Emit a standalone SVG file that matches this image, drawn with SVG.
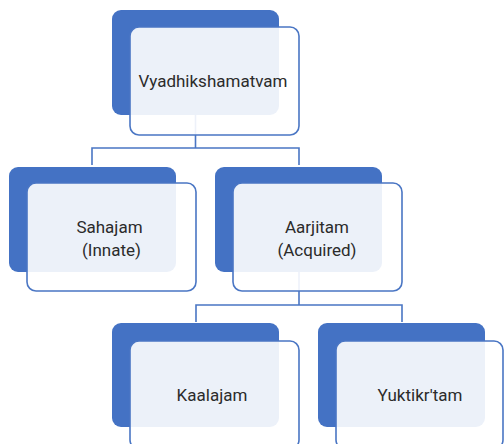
<svg xmlns="http://www.w3.org/2000/svg" width="504" height="444" viewBox="0 0 504 444">
<style>
.back{fill:#4472c4;}
.front{fill:#ffffff;fill-opacity:0.9;stroke:#4a76c4;stroke-width:1.6;}
.lbl{font-family:Roboto,"Liberation Sans",sans-serif;font-size:17px;fill:#2b2b2b;text-anchor:middle;}
.conn{fill:none;stroke:#4a76c4;stroke-width:1.6;}
</style>
<rect width="504" height="444" fill="#ffffff"/>
<g id="connectors">
<path class="conn" d="M195.5,115 V148 M92,165 V148 H299 V165"/>
<path class="conn" d="M299,272 V305 M196,322 V305 H402 V322"/>
</g>
<g id="node-vyadhikshamatvam">
<rect class="back" x="112" y="10" width="167" height="105" rx="9"/>
<rect class="front" x="130" y="27" width="169" height="108" rx="9"/>
<text class="lbl" x="213" y="87">Vyadhikshamatvam</text>
</g>
<g id="node-sahajam">
<rect class="back" x="9" y="167" width="167" height="105" rx="9"/>
<rect class="front" x="27" y="183" width="169" height="108" rx="9"/>
<text class="lbl" x="109.5" y="233">Sahajam</text>
<text class="lbl" x="111.5" y="256">(Innate)</text>
</g>
<g id="node-aarjitam">
<rect class="back" x="215" y="167" width="167" height="105" rx="9"/>
<rect class="front" x="233" y="183" width="169" height="108" rx="9"/>
<text class="lbl" x="317" y="233">Aarjitam</text>
<text class="lbl" x="317" y="256">(Acquired)</text>
</g>
<g id="node-kaalajam">
<rect class="back" x="112" y="323" width="167" height="104" rx="9"/>
<rect class="front" x="130" y="341" width="169" height="108" rx="9"/>
<text class="lbl" x="212" y="401">Kaalajam</text>
</g>
<g id="node-yuktikrtam">
<rect class="back" x="318" y="323" width="167" height="104" rx="9"/>
<rect class="front" x="336" y="341" width="167" height="108" rx="9"/>
<text class="lbl" x="420" y="401">Yuktikr'tam</text>
</g>
</svg>
